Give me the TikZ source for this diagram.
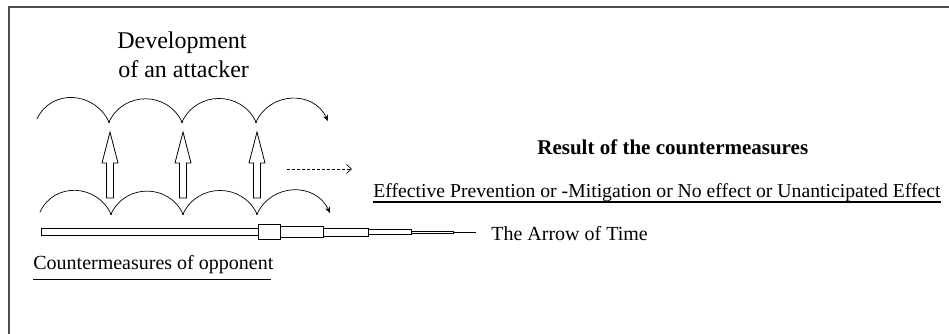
\documentclass[tikz,border=0pt]{standalone}
\usepackage{fontspec}
\setmainfont{Liberation Serif}
\usetikzlibrary{arrows.meta}
\tikzset{
	hop/.style={out=65, in=115, looseness=1.2},
	lbl/.style={inner sep=0pt, anchor=base west, font=\fontsize{20}{24}\selectfont},
	tube/.style={draw, line width=0.8pt, fill=white},
	blockarrow/.style={draw, line width=0.8pt, fill=white, line join=miter},
}
\begin{document}
\begin{tikzpicture}[x=1pt, y=-1pt, line width=0.7pt]
			\useasboundingbox (0,0) rectangle (949,333);

			% frame
			\draw [line width=2pt, black!70] (9,335)--(9,7)--(951,7);

			% development of an attacker
			\node [lbl, font=\fontsize{24}{29}\selectfont] (dev) at (117,48) {Development};
			\node [lbl, font=\fontsize{24}{29}\selectfont] (att) at (118,77) {of an attacker};
			\coordinate (t0) at (37,119);
			\coordinate (t1) at (109,122);
			\coordinate (t2) at (182,122);
			\coordinate (t3) at (256,122);
			\coordinate (t4) at (328,121);
			\draw (t0) to[hop] (t1) to[hop] (t2) to[hop] (t3);
			\draw [-{Stealth[length=6pt, width=5pt]}] (t3) to[hop] (t4);

			% countermeasures of opponent
			\coordinate (b0) at (40,212);
			\coordinate (b1) at (111,214);
			\coordinate (b2) at (183,214);
			\coordinate (b3) at (257,214);
			\coordinate (b4) at (330,213);
			\draw (b0) to[hop] (b1) to[hop] (b2) to[hop] (b3);
			\draw [-{Stealth[length=6pt, width=5pt]}] (b3) to[hop] (b4);
			\foreach \p in {t1,t2,t3,b1,b2,b3}
			\fill (\p) circle (1pt);

			% block arrows
			\foreach \x in {110,183,257}
			\draw [blockarrow] (\x-3.5,198)--(\x-3.5,163)--(\x-8,163)--(\x,132)--(\x+8,163)--(\x+3.5,163)--(\x+3.5,198)--cycle;

			% dashed arrow
			\coordinate (d0) at (287,169);
			\coordinate (d1) at (352,169);
			\draw [dash pattern=on 3pt off 2pt, -{Straight Barb[length=5pt, width=9pt]}] (d0)--(d1);

			% arrow of time
			\foreach \a/\b/\h in {41/258/3.5, 258/280/7.5, 280/323/5.5, 323/368/4, 368/411/2.5, 411/453/1}
			\draw [tube] (\a,232-\h) rectangle (\b,232+\h);
			\node [lbl] (time) at (491,240) {The Arrow of Time};
			\coordinate (tip0) at (453,232);
			\coordinate (tip1) at (476,232);
			\draw (tip0)--(tip1);

			% result of the countermeasures
			\node [lbl, font=\bfseries\fontsize{21}{25}\selectfont] (res) at (537,154) {Result of the countermeasures};
			\node [lbl, font=\fontsize{19.7}{24}\selectfont] (eff) at (373,197) {Effective Prevention or -Mitigation or No effect or Unanticipated Effect};
			\draw [line width=1.2pt] ([yshift=-5pt]eff.base west)--([yshift=-5pt]eff.base east);

			\node [lbl] (cm) at (33,269) {Countermeasures of opponent};
			\draw ([yshift=-10pt]cm.base west)--([yshift=-10pt, xshift=-3pt]cm.base east);
		\end{tikzpicture}
\end{document}
